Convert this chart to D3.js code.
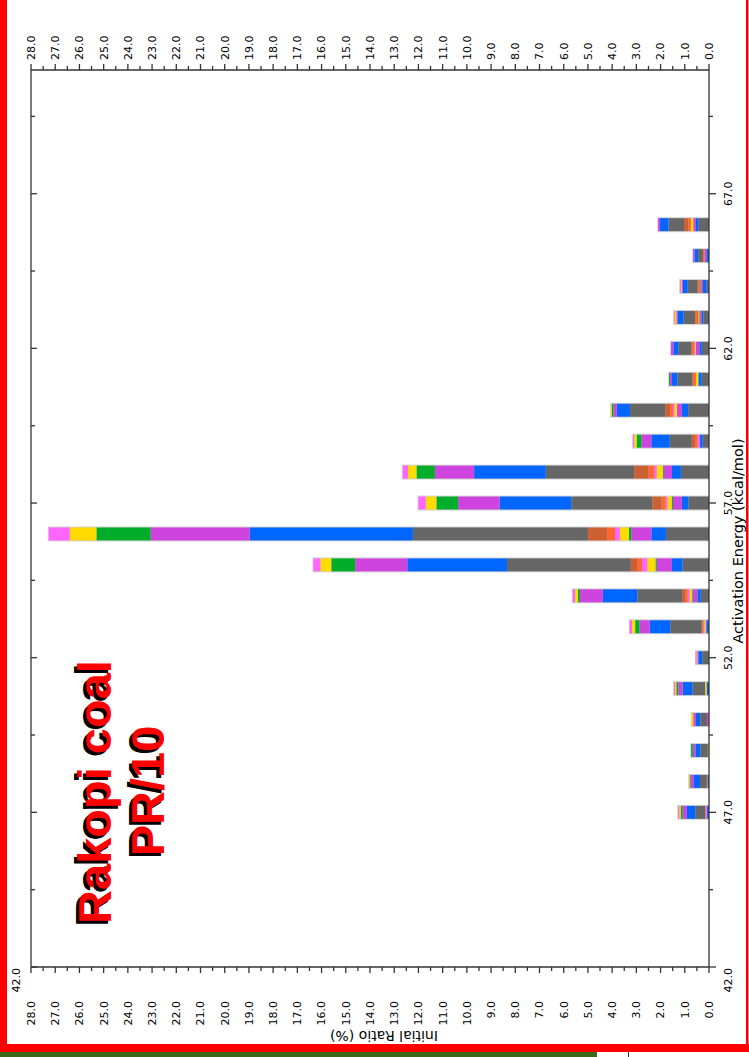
<!DOCTYPE html>
<html>
<head>
<meta charset="utf-8">
<script src="https://cdn.jsdelivr.net/npm/d3@7/dist/d3.min.js"></script>
<style>
  html, body { margin: 0; padding: 0; background: #fff; }
  svg { display: block; }
</style>
</head>
<body>
<svg id="chart" width="749" height="1057"></svg>
<script>
// Activation energy bins (kcal/mol)
const energies = [47, 48, 49, 50, 51, 52, 53, 54, 55, 56, 57, 58, 59, 60, 61, 62, 63, 64, 65, 66];

// Initial ratio (%) of each component, one entry per energy bin
const gray1   = [0, 0, 0, 0, 0, 0, 0.03, 0.34, 1.09, 1.78, 0.85, 1.16, 0.26, 0.86, 0.30, 0.30, 0.23, 0.10, 0, 0.43];
const blue1   = [0.08, 0.06, 0, 0, 0.10, 0, 0.08, 0.14, 0.44, 0.60, 0.27, 0.37, 0.11, 0.26, 0.14, 0.10, 0.06, 0.15, 0.11, 0.11];
const violet1 = [0, 0, 0, 0.08, 0, 0, 0.03, 0.20, 0.63, 0.83, 0.37, 0.34, 0, 0.20, 0, 0.14, 0.07, 0.07, 0.07, 0.11];
const green1  = [0, 0, 0, 0, 0, 0.04, 0, 0.02, 0.05, 0.10, 0.05, 0.04, 0, 0, 0, 0, 0.04, 0.03, 0, 0];
const yellow1 = [0, 0, 0.03, 0, 0.06, 0, 0.05, 0.10, 0.34, 0.37, 0.18, 0.25, 0, 0.11, 0.10, 0.04, 0.03, 0, 0, 0.10];
const pink1   = [0.05, 0, 0, 0, 0, 0, 0.03, 0.08, 0.22, 0.20, 0.07, 0.10, 0.10, 0.06, 0, 0.04, 0, 0, 0, 0];
const orange1 = [0.03, 0.03, 0.02, 0, 0, 0, 0.05, 0.10, 0.20, 0.33, 0.17, 0.23, 0.11, 0.12, 0.14, 0.10, 0.14, 0.08, 0.07, 0.10];
const brown1  = [0, 0, 0, 0, 0, 0, 0.03, 0.13, 0.26, 0.79, 0.38, 0.60, 0.13, 0.20, 0, 0, 0, 0.04, 0, 0.18];
const gray2   = [0.41, 0.28, 0.30, 0.28, 0.52, 0.24, 1.30, 1.85, 5.11, 7.23, 3.35, 3.65, 0.91, 1.45, 0.62, 0.55, 0.48, 0.41, 0.20, 0.64];
const blue2   = [0.34, 0.25, 0.21, 0.18, 0.41, 0.16, 0.85, 1.42, 4.12, 6.74, 2.96, 2.96, 0.76, 0.55, 0.23, 0.20, 0.25, 0.20, 0.15, 0.35];
const violet2 = [0.18, 0.14, 0.11, 0.11, 0.18, 0.04, 0.42, 0.95, 2.15, 4.09, 1.71, 1.62, 0.41, 0.14, 0.08, 0.10, 0.05, 0.05, 0.06, 0.08];
const green2  = [0.08, 0.04, 0.07, 0, 0.08, 0, 0.18, 0.08, 0.99, 2.24, 0.90, 0.76, 0.20, 0.07, 0.04, 0, 0, 0, 0, 0];
const yellow2 = [0.06, 0.03, 0, 0.07, 0.05, 0.03, 0.13, 0.12, 0.45, 1.10, 0.44, 0.35, 0.10, 0.03, 0, 0, 0.07, 0.03, 0, 0];
const pink2   = [0.05, 0, 0, 0, 0.05, 0.04, 0.10, 0.10, 0.29, 0.87, 0.30, 0.22, 0.05, 0, 0, 0, 0.03, 0.04, 0, 0];

// Axis tick values
const ratioTicks = d3.range(0, 28.001, 1);
const ratioMinorTicks = d3.range(0.5, 28, 1);
const energyTicks = [42, 47, 52, 57, 62, 67];
const energyMinorTicks = [44.5, 49.5, 54.5, 59.5, 64.5, 69.5];

const seriesList = [
  { key: "gray1", values: gray1, color: "#666666" },
  { key: "blue1", values: blue1, color: "#0066ff" },
  { key: "violet1", values: violet1, color: "#cf44df" },
  { key: "green1", values: green1, color: "#00ad2a" },
  { key: "yellow1", values: yellow1, color: "#ffdb00" },
  { key: "pink1", values: pink1, color: "#ff66ff" },
  { key: "orange1", values: orange1, color: "#ff6633" },
  { key: "brown1", values: brown1, color: "#cc6033" },
  { key: "gray2", values: gray2, color: "#666666" },
  { key: "blue2", values: blue2, color: "#0066ff" },
  { key: "violet2", values: violet2, color: "#cf44df" },
  { key: "green2", values: green2, color: "#00ad2a" },
  { key: "yellow2", values: yellow2, color: "#ffdb00" },
  { key: "pink2", values: pink2, color: "#ff66ff" }
];

const rows = energies.map((e, i) => {
  const r = { energy: e };
  seriesList.forEach(s => { r[s.key] = s.values[i]; });
  return r;
});
const stacked = d3.stack().keys(seriesList.map(s => s.key))(rows);

const svg = d3.select("#chart");
const plotLeft = 31, plotRight = 709, plotTop = 70, plotBottom = 967;

// Ratio runs right-to-left, energy bottom-to-top
const x = d3.scaleLinear().domain([0, 28]).range([plotRight, plotLeft]);
const y = d3.scaleLinear().domain([42, 71]).range([plotBottom, plotTop]);

const fmt = d3.format(".1f");
const tickFont = "DejaVu Sans, Verdana, sans-serif";

svg.append("rect").attr("x", 0).attr("y", 0).attr("width", 749).attr("height", 1057).attr("fill", "#fff");

// Bars
const barH = 15;
const barG = svg.append("g");
energies.forEach((e, i) => {
  const total = d3.sum(seriesList, s => s.values[i]);
  barG.append("rect")
    .attr("x", x(total) - 0.8)
    .attr("y", y(e) - barH / 2)
    .attr("width", x(0) - x(total) + 0.8)
    .attr("height", barH)
    .attr("fill", "#d4d4d4");
});
stacked.forEach((layer, li) => {
  barG.append("g")
    .attr("fill", seriesList[li].color)
    .selectAll("rect")
    .data(layer.filter(d => d[1] - d[0] > 0))
    .join("rect")
    .attr("x", d => x(d[1]))
    .attr("y", d => y(d.data.energy) - barH / 2 + 1)
    .attr("width", d => x(d[0]) - x(d[1]))
    .attr("height", barH - 2);
});

// Axis frame lines
const axisColor = "#333";
const axG = svg.append("g").attr("stroke", axisColor).attr("stroke-width", 1.3).attr("fill", "none");
axG.append("line").attr("x1", plotLeft).attr("x2", plotRight).attr("y1", plotTop).attr("y2", plotTop);
axG.append("line").attr("x1", plotLeft).attr("x2", plotRight).attr("y1", plotBottom).attr("y2", plotBottom);
axG.append("line").attr("x1", plotLeft).attr("x2", plotLeft).attr("y1", plotTop).attr("y2", plotBottom);
axG.append("line").attr("x1", plotRight).attr("x2", plotRight).attr("y1", plotTop).attr("y2", plotBottom);

// Ratio ticks on top (outward, up) and bottom (outward, down)
ratioTicks.forEach(v => {
  axG.append("line").attr("x1", x(v)).attr("x2", x(v)).attr("y1", plotTop).attr("y2", plotTop - 6);
  axG.append("line").attr("x1", x(v)).attr("x2", x(v)).attr("y1", plotBottom).attr("y2", plotBottom + 6);
});
ratioMinorTicks.forEach(v => {
  axG.append("line").attr("x1", x(v)).attr("x2", x(v)).attr("y1", plotTop).attr("y2", plotTop - 4);
  axG.append("line").attr("x1", x(v)).attr("x2", x(v)).attr("y1", plotBottom).attr("y2", plotBottom + 4);
});

// Energy ticks: right side outward, left side inward
energyTicks.forEach(v => {
  axG.append("line").attr("x1", plotRight).attr("x2", plotRight + 7).attr("y1", y(v)).attr("y2", y(v));
  axG.append("line").attr("x1", plotLeft).attr("x2", plotLeft + 6).attr("y1", y(v)).attr("y2", y(v));
});
energyMinorTicks.forEach(v => {
  axG.append("line").attr("x1", plotRight).attr("x2", plotRight + 4).attr("y1", y(v)).attr("y2", y(v));
  axG.append("line").attr("x1", plotLeft).attr("x2", plotLeft + 4).attr("y1", y(v)).attr("y2", y(v));
});

// Tick labels
const lblG = svg.append("g").attr("font-family", tickFont).attr("font-size", 11).attr("fill", "#000");
ratioTicks.forEach(v => {
  lblG.append("text")
    .attr("transform", `translate(${x(v)},60) rotate(-90)`)
    .attr("text-anchor", "start").attr("dy", "0.35em")
    .text(fmt(v));
  lblG.append("text")
    .attr("transform", `translate(${x(v)},1001) rotate(-90)`)
    .attr("text-anchor", "end").attr("dy", "0.35em")
    .text(fmt(v));
});
energyTicks.forEach(v => {
  const atEdge = v === 42;
  lblG.append("text")
    .attr("transform", `translate(728,${atEdge ? y(v) + 1 : y(v)}) rotate(-90)`)
    .attr("text-anchor", atEdge ? "end" : "middle").attr("dy", "0.35em")
    .text(fmt(v));
});
lblG.append("text")
  .attr("transform", `translate(16,${y(42) + 1}) rotate(-90)`)
  .attr("text-anchor", "end").attr("dy", "0.35em")
  .text(fmt(42));

// Axis titles
svg.append("text")
  .attr("transform", "translate(743,541) rotate(-90)")
  .attr("text-anchor", "middle")
  .attr("font-family", tickFont).attr("font-size", 14.5)
  .text("Activation Energy (kcal/mol)");
svg.append("text")
  .attr("transform", "translate(384,1031) rotate(180)")
  .attr("text-anchor", "middle")
  .attr("font-family", tickFont).attr("font-size", 14)
  .text("Initial Ratio (%)");

// Sample title with drop shadow
const titleLines = [
  { text: "Rakopi coal", bx: 111, cy: 792 },
  { text: "PR/10", bx: 164, cy: 791 }
];
const titleG = svg.append("g")
  .attr("font-family", "Liberation Sans, Arial, sans-serif")
  .attr("font-weight", "bold").attr("font-size", 47)
  .attr("text-anchor", "middle");
titleLines.forEach(t => {
  titleG.append("text")
    .attr("transform", `translate(${t.bx - 3},${t.cy + 3}) rotate(-90)`)
    .attr("fill", "#000").text(t.text);
});
titleLines.forEach(t => {
  titleG.append("text")
    .attr("transform", `translate(${t.bx},${t.cy}) rotate(-90)`)
    .attr("fill", "#ff0000").text(t.text);
});

// Slide border
svg.append("rect").attr("x", 0).attr("y", 0).attr("width", 7).attr("height", 1052).attr("fill", "#ff0000");
svg.append("rect").attr("x", 746).attr("y", 0).attr("width", 2.5).attr("height", 1052).attr("fill", "#ff0000");
svg.append("rect").attr("x", 0).attr("y", 1044).attr("width", 749).attr("height", 8).attr("fill", "#ff0000");
svg.append("rect").attr("x", 0).attr("y", 1052).attr("width", 597).attr("height", 5).attr("fill", "#3d6a1a");
svg.append("rect").attr("x", 597).attr("y", 1052).attr("width", 152).attr("height", 5).attr("fill", "#fff");
svg.append("line").attr("x1", 628.5).attr("x2", 628.5).attr("y1", 1052).attr("y2", 1057).attr("stroke", "#333");
</script>
</body>
</html>
